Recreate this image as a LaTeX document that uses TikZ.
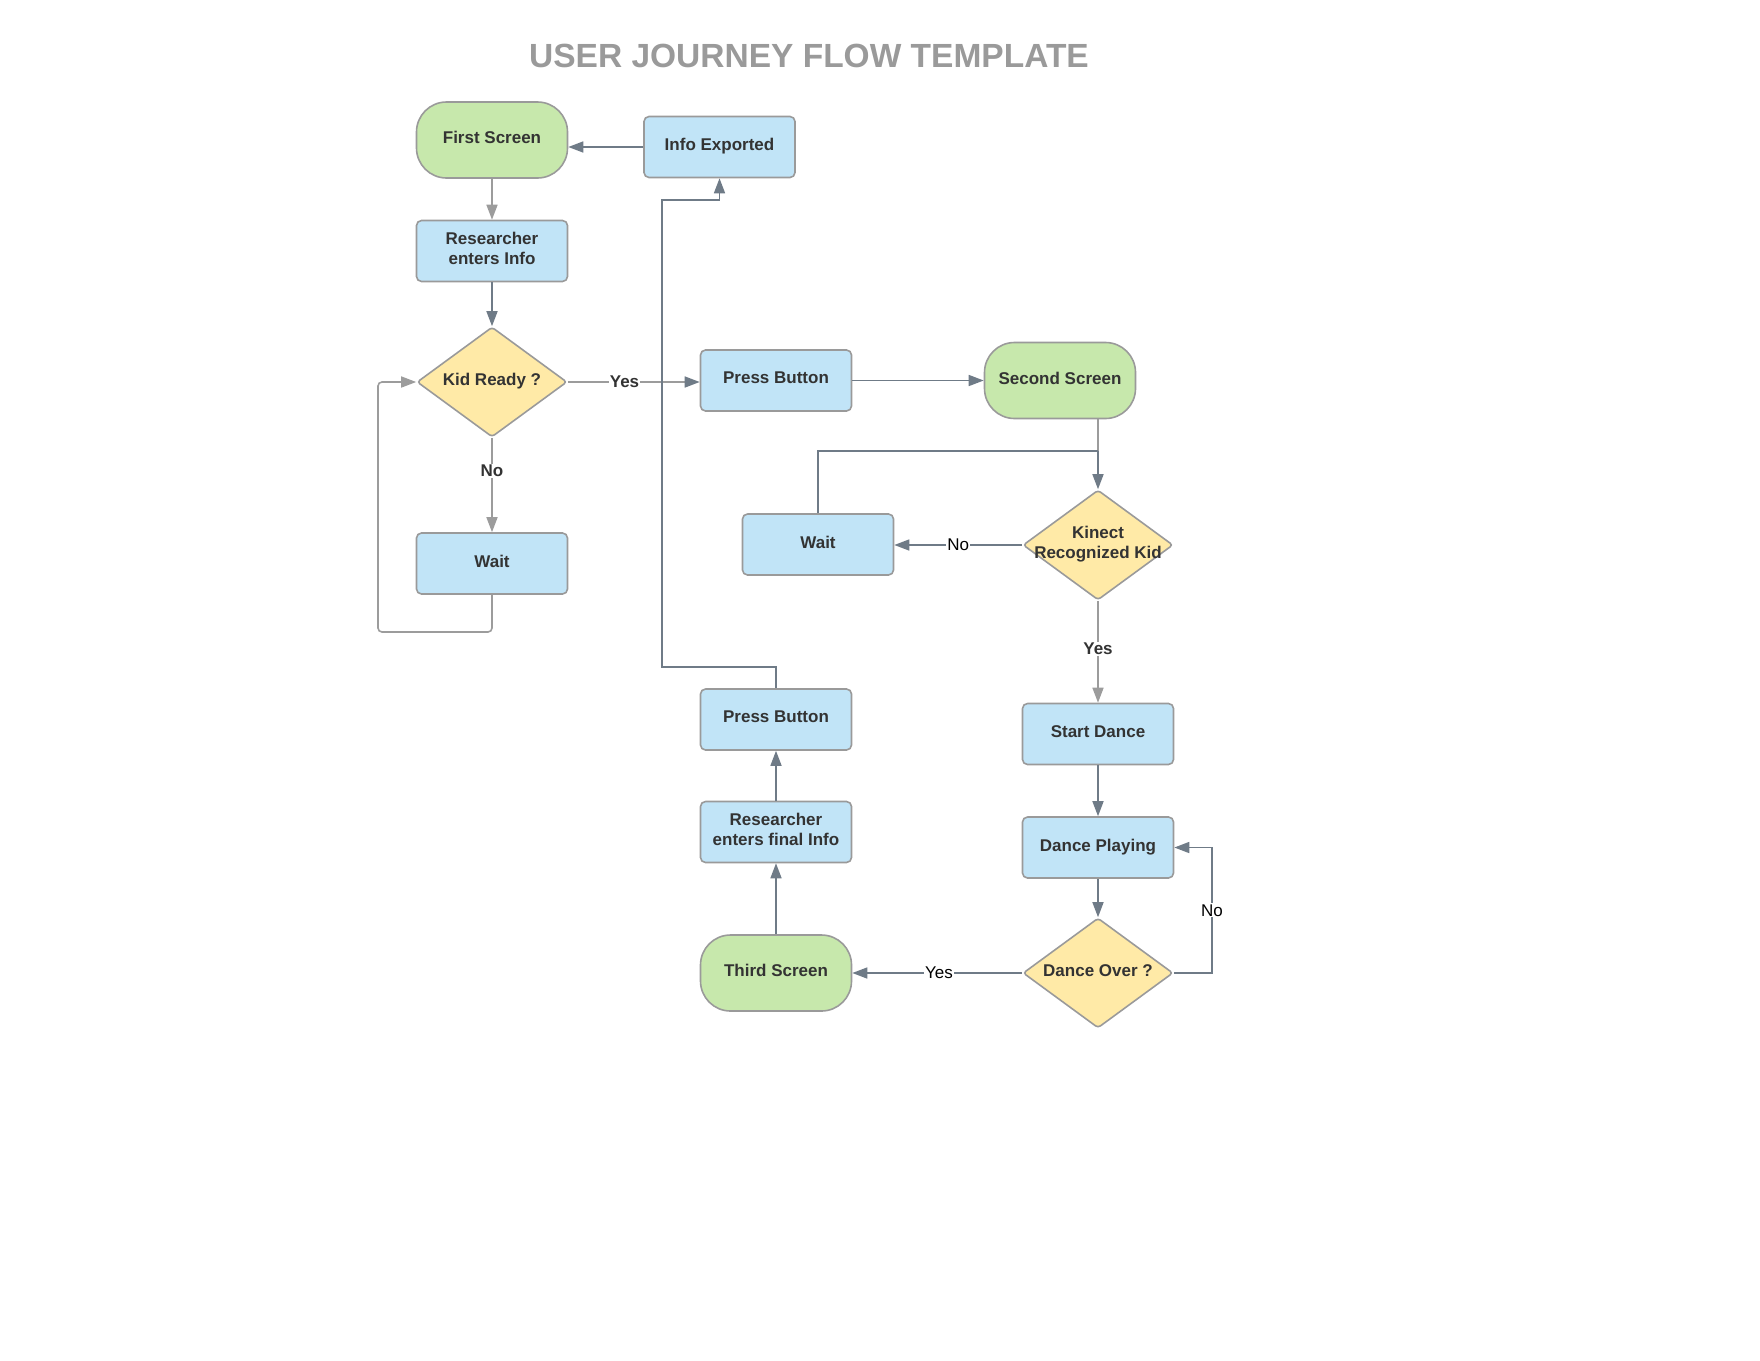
\documentclass[tikz,border=0pt]{standalone}
\usepackage{fontspec}
\setmainfont{Liberation Sans}
\usetikzlibrary{shapes.geometric,arrows.meta}
\definecolor{boxblue}{HTML}{C1E4F7}
\definecolor{termgreen}{HTML}{C7E8AC}
\definecolor{diayellow}{HTML}{FFEAA7}
\definecolor{edgegray}{HTML}{9A9A9A}
\definecolor{linkdark}{HTML}{6F7B87}
\definecolor{linkgray}{HTML}{9C9C9C}
\definecolor{txtdark}{HTML}{333333}
\tikzset{
  box/.style={draw=edgegray, fill=boxblue, line width=1.6pt, rounded corners=5pt,
    minimum width=151pt, minimum height=61pt, align=center, text=txtdark, text depth=5pt,
    font=\bfseries\fontsize{17}{20}\selectfont},
  term/.style={box, fill=termgreen, rounded corners=30pt, minimum height=76pt},
  dia/.style={diamond, draw=edgegray, fill=diayellow, line width=1.6pt, rounded corners=3pt,
    minimum width=150pt, minimum height=110pt, inner sep=0pt},
  dtxt/.style={align=center, text=txtdark, text depth=5pt, font=\bfseries\fontsize{17}{20}\selectfont},
  tip/.style={-{Triangle[length=15pt,width=11pt]}},
  dk/.style={draw=linkdark, line width=1.6pt, tip},
  gy/.style={draw=linkgray, line width=1.6pt, tip},
  lab/.style={fill=white, inner sep=1pt, text=black, font=\fontsize{17}{20}\selectfont},
  blab/.style={lab, text=txtdark, font=\bfseries\fontsize{17}{20}\selectfont},
}
\begin{document}
\begin{tikzpicture}[x=1pt,y=-1pt]
        \useasboundingbox (0,0) rectangle (1760,1360);
        \node[text=edgegray, font=\bfseries\fontsize{33.5}{36}\selectfont] (title) at (809,56) {USER JOURNEY FLOW TEMPLATE};
        % left column
        \node[term] (first) at (492,140) {First Screen};
        \node[box] (info) at (719.5,147) {Info Exported};
        \node[box] (enter) at (492,251) {Researcher\\enters Info};
        \node[dia] (ready) at (492,382) {};
        \node[dtxt] (readytxt) at (ready) {Kid Ready ?};
        \node[box] (waitA) at (492,563.5) {Wait};
        \coordinate (loopA) at (378,632);
        % middle and right
        \node[box] (pressA) at (776,380.5) {Press Button};
        \node[term] (second) at (1060,380.5) {Second Screen};
        \node[box] (waitB) at (818,544.5) {Wait};
        \node[dia] (kinect) at (1098,545) {};
        \node[dtxt] (kinecttxt) at (kinect) {Kinect\\Recognized Kid};
        \coordinate (jn) at (1098,451);
        \node[box] (start) at (1098,734) {Start Dance};
        \node[box] (playing) at (1098,847.5) {Dance Playing};
        \node[dia] (over) at (1098,973) {};
        \node[dtxt] (overtxt) at (over) {Dance Over ?};
        \coordinate (noB) at (1212,847.5);
        \node[term] (third) at (776,973) {Third Screen};
        \node[box] (final) at (776,832) {Researcher\\enters final Info};
        \node[box] (pressB) at (776,719.5) {Press Button};
        \coordinate (upA) at (662,667);
        \coordinate (upB) at (662,200);
        % connectors
        \draw[dk] (info.west) -- (info.west -| first.east);
        \draw[gy] (first) -- (enter);
        \draw[dk] (enter) -- (ready);
        \draw[gy] (ready) -- node[blab, pos=0.35] {No} (waitA);
        \draw[gy, rounded corners=4pt] (waitA.south) |- (loopA) |- (ready.west);
        \draw[draw=linkgray, line width=1.6pt, -{Triangle[length=15pt,width=11pt,color=linkdark]}]
            (ready.east) -- node[blab, pos=0.43] {Yes} (ready.east -| pressA.west);
        \draw[dk] (pressA) -- (second);
        \draw[draw=linkgray, line width=1.6pt] (kinect.north |- second.south) -- (jn);
        \draw[dk] (jn) -- (kinect.north);
        \draw[draw=linkdark, line width=1.6pt] (waitB.north) |- (jn);
        \draw[dk] (kinect.west) -- node[lab] {No} (kinect.west -| waitB.east);
        \draw[gy] (kinect) -- node[blab, pos=0.47] {Yes} (start);
        \draw[dk] (start) -- (playing);
        \draw[dk] (playing) -- (over);
        \draw[dk] (over) -- node[lab, pos=0.49] {Yes} (third);
        \draw[dk] (over.east) -| node[lab, pos=0.75] {No} (noB) -- (playing.east);
        \draw[dk] (third) -- (final);
        \draw[dk] (final) -- (pressB);
        \draw[dk] (pressB.north) |- (upA) -- (upB) -| (info.south);
\end{tikzpicture}
\end{document}
